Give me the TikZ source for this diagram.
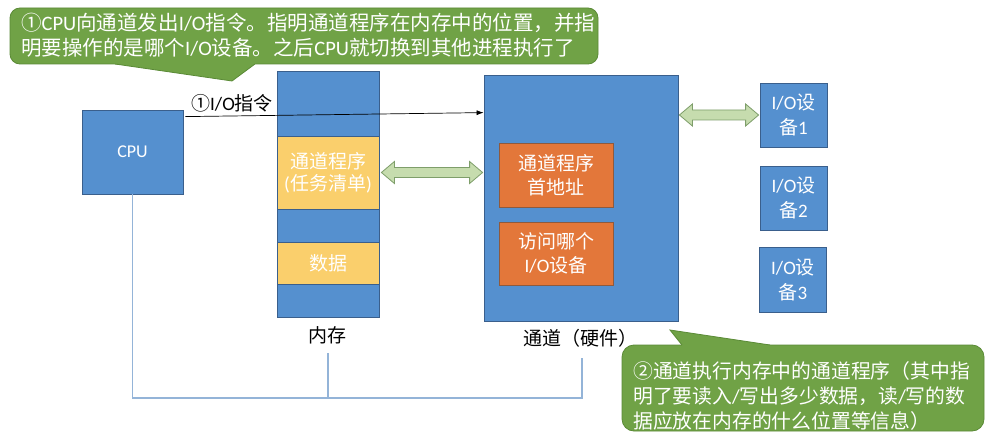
\documentclass[tikz,border=0pt]{standalone}
\usepackage{fontspec}
\setmainfont{Carlito}
\newfontfamily\cjkfont{Noto Sans CJK SC}
\XeTeXinterchartokenstate=1
\newXeTeXintercharclass\cjkcls
\newcount\cjkc
\cjkc="2460 \loop\XeTeXcharclass\cjkc=\cjkcls\advance\cjkc by 1 \ifnum\cjkc<"2500 \repeat
\cjkc="3000 \loop\XeTeXcharclass\cjkc=\cjkcls\advance\cjkc by 1 \ifnum\cjkc<"A000 \repeat
\cjkc="FF00 \loop\XeTeXcharclass\cjkc=\cjkcls\advance\cjkc by 1 \ifnum\cjkc<"FFF0 \repeat
\XeTeXinterchartoks 0 \cjkcls = {\cjkfont}
\XeTeXinterchartoks 4095 \cjkcls = {\cjkfont}
\XeTeXinterchartoks \cjkcls 0 = {\rmfamily}
\usetikzlibrary{calc,arrows.meta}
\definecolor{boxblue}{HTML}{5590CF}
\definecolor{boxline}{HTML}{3A5F8C}
\definecolor{yel}{HTML}{FACF6C}
\definecolor{org}{HTML}{E3773A}
\definecolor{orgline}{HTML}{8E5A3E}
\definecolor{cgreen}{HTML}{70A246}
\definecolor{cgline}{HTML}{5A8A36}
\definecolor{agreen}{HTML}{C6DCAE}
\definecolor{agline}{HTML}{7E9E6A}
\definecolor{busc}{HTML}{94B4D8}
\newcommand\fatdbl[2]{\draw[fatarr] (#1) -- ($(#1)+(13,-11)$) -- ($(#1)+(13,-5)$) -- ($(#2)+(-13,-5)$) -- ($(#2)+(-13,-11)$) -- (#2) -- ($(#2)+(-13,11)$) -- ($(#2)+(-13,5)$) -- ($(#1)+(13,5)$) -- ($(#1)+(13,11)$) -- cycle;}
\begin{document}
\begin{tikzpicture}[x=1pt,y=-1pt,
  box/.style={draw=boxline, fill=boxblue, line width=0.8pt, inner sep=0pt, text=white, align=center},
  ybox/.style={box, fill=yel, minimum width=102pt, font=\fontsize{19}{22}\selectfont},
  obox/.style={box, draw=orgline, fill=org, minimum width=114pt, font=\fontsize{19}{24}\selectfont},
  dbox/.style={box, minimum width=67pt, minimum height=64pt, font=\fontsize{19}{25}\selectfont},
  lbl/.style={inner sep=0pt, text=black, font=\fontsize{19}{22}\selectfont},
  ctext/.style={inner sep=0pt, text=white, align=left},
  callout/.style={fill=cgreen, draw=cgline, line width=0.8pt},
  fatarr/.style={fill=agreen, draw=agline, line width=0.8pt, line join=miter},
  cmd/.style={-{Latex[length=7pt,width=5pt]}, line width=0.7pt, black},
  bus/.style={draw=busc, line width=1.1pt}]
\useasboundingbox[fill=white] (0,0) rectangle (993,441);

% CPU
\node[box, minimum width=101pt, minimum height=84pt, font=\fontsize{18}{22}\selectfont] (cpu) at (132.5,152) {CPU};
% memory
\node[box, minimum width=102pt, minimum height=246pt] (mem) at (328,194) {};
\node[ybox, minimum height=73pt] (prog) at (328,172.5) {通道程序\\(任务清单)};
\node[ybox, minimum height=42pt] (data) at (328,263) {数据};
\node[lbl] (memlbl) at (327,335) {内存};
% channel
\node[box, minimum width=194pt, minimum height=246pt] (chan) at (581,198) {};
\node[obox, minimum height=64pt] (addr) at (556,175) {通道程序\\首地址};
\node[obox, minimum height=63pt] (which) at (556,253.5) {访问哪个\\I/O设备};
\node[lbl] (chlbl) at (580,338) {通道（硬件）};
% devices
\node[dbox] (d1) at (793.5,115) {I/O设\\备1};
\node[dbox] (d2) at (793.5,198) {I/O设\\备2};
\node[dbox, minimum height=65pt] (d3) at (793,279.5) {I/O设\\备3};

% I/O command
\node[lbl] (cmdlbl) at (232,103) {①I/O指令};
\draw[cmd] ([shift={(2,7)}]cpu.north east) -- ([shift={(0,38)}]chan.north west);

% fat double arrows
\coordinate (a1l) at ([xshift=2pt]prog.east);
\coordinate (a1r) at ([xshift=-1pt]chan.west |- prog.east);
\fatdbl{a1l}{a1r}
\coordinate (a2l) at ([xshift=1pt]chan.east |- d1.west);
\coordinate (a2r) at ([xshift=-1pt]d1.west);
\fatdbl{a2l}{a2r}

% bus
\coordinate (busY) at (0,398);
\coordinate (memTop) at (328,353);
\coordinate (chTop) at (582,358);
\draw[bus] (cpu.south) |- (chTop |- busY) -- (chTop);
\draw[bus] (memTop) -- (memTop |- busY);

% callout 1
\draw[callout, rounded corners=10pt] (10,8) rectangle (598,64);
\fill[cgreen] (113,61) -- (115,64) -- (232,81) -- (255,64) -- (257,61) -- cycle;
\draw[cgline, line width=0.8pt, line join=miter] (115,64) -- (232,81) -- (255,64);
\node[ctext, anchor=west, font=\fontsize{20.5}{25}\selectfont] (c1) at (21,35) {①CPU向通道发出I/O指令。指明通道程序在内存中的位置，并指\\明要操作的是哪个I/O设备。之后CPU就切换到其他进程执行了};

% callout 2
\draw[callout, rounded corners=12pt] (622,345) rectangle (984,431);
\fill[cgreen] (680,348) -- (682,345) -- (670,330) -- (770,345) -- (772,348) -- cycle;
\draw[cgline, line width=0.8pt, line join=miter] (682,345) -- (670,330) -- (770,345);
\node[ctext, anchor=west, font=\fontsize{19.8}{25}\selectfont] (c2) at (633,396) {②通道执行内存中的通道程序（其中指\\明了要读入/写出多少数据，读/写的数\\据应放在内存的什么位置等信息）};
\end{tikzpicture}
\end{document}
